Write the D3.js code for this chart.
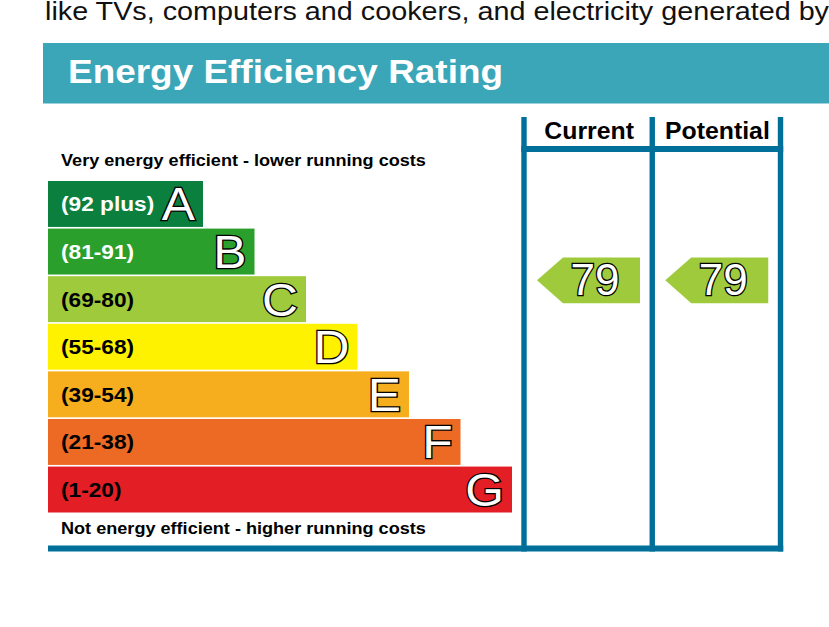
<!DOCTYPE html>
<html>
<head>
<meta charset="utf-8">
<script src="https://cdn.jsdelivr.net/npm/d3@7"></script>
<style>
  body { margin: 0; background: #fff; }
  svg { display: block; font-family: "Liberation Sans", Arial, sans-serif; }
</style>
</head>
<body>
<svg id="chart" width="829" height="627"></svg>
<script>
// Data
const ratings = ["A", "B", "C", "D", "E", "F", "G"];
const ranges = ["(92 plus)", "(81-91)", "(69-80)", "(55-68)", "(39-54)", "(21-38)", "(1-20)"];
const bandMin = [92, 81, 69, 55, 39, 21, 1];
const bandMax = [100, 91, 80, 68, 54, 38, 20];
const barColors = ["#0b7f3e", "#2b9f2b", "#9fca3c", "#fff200", "#f6ad1e", "#ec6a24", "#e31e25"];
const labelColors = ["#fff", "#fff", "#000", "#000", "#000", "#000", "#000"];
const columns = ["Current", "Potential"];
const scores = [79, 79];

const blue = "#00709a";
const sx = 1.08; // the source picture is a little stretched sideways

const svg = d3.select("#chart");

// intro text cut from the page above
svg.append("text")
  .attr("x", 45).attr("y", 19.5)
  .attr("font-size", 25)
  .attr("textLength", 784)
  .attr("lengthAdjust", "spacingAndGlyphs")
  .attr("fill", "#111")
  .text("like TVs, computers and cookers, and electricity generated by");

// title bar
svg.append("rect")
  .attr("x", 43).attr("y", 43)
  .attr("width", 829 - 43).attr("height", 60.5)
  .attr("fill", "#3ca6b9");

svg.append("text")
  .attr("x", 68).attr("y", 83)
  .attr("font-size", 34).attr("font-weight", "bold")
  .attr("textLength", 435)
  .attr("lengthAdjust", "spacingAndGlyphs")
  .attr("fill", "#fff")
  .text("Energy Efficiency Rating");

// scales
const left = 48;
const y = d3.scaleBand()
  .domain(ratings)
  .range([181, 512.5])
  .paddingInner(0.035)
  .paddingOuter(0);

const xRight = d3.scalePoint()
  .domain(ratings)
  .range([203, 512]);

const col = d3.scaleBand()
  .domain(columns)
  .range([524, 780.5]);

// value -> vertical centre of the arrow
function bandIndex(v) {
  const i = bandMin.findIndex(m => v >= m);
  return i < 0 ? ratings.length - 1 : i;
}
function scoreY(v) {
  const i = bandIndex(v);
  const t = (bandMax[i] - v) / (bandMax[i] - bandMin[i]);
  return y(ratings[i]) + t * y.bandwidth();
}

// captions
svg.append("text")
  .attr("transform", `translate(61,165.5) scale(1.09,1)`)
  .attr("font-size", 16.6).attr("font-weight", "bold")
  .text("Very energy efficient - lower running costs");

svg.append("text")
  .attr("transform", `translate(61,533.5) scale(1.09,1)`)
  .attr("font-size", 16.6).attr("font-weight", "bold")
  .text("Not energy efficient - higher running costs");

// bars
const bars = svg.selectAll("g.bar")
  .data(ratings)
  .join("g")
  .attr("class", "bar");

bars.append("rect")
  .attr("x", left)
  .attr("y", d => y(d))
  .attr("width", d => xRight(d) - left)
  .attr("height", y.bandwidth())
  .attr("fill", (d, i) => barColors[i]);

bars.append("text")
  .attr("transform", d => `translate(61,${y(d) + y.bandwidth() / 2 + 7.5}) scale(${sx},1)`)
  .attr("font-size", 21).attr("font-weight", "bold")
  .attr("fill", (d, i) => labelColors[i])
  .text((d, i) => ranges[i]);

bars.append("text")
  .attr("transform", d => `translate(${xRight(d) - 8},${y(d) + y.bandwidth() / 2 + 16.5}) scale(${sx},1)`)
  .attr("text-anchor", "end")
  .attr("font-size", 46)
  .attr("fill", "#fff")
  .attr("stroke", "#000")
  .attr("stroke-width", 2.6)
  .attr("paint-order", "stroke")
  .text(d => d);

// column frame
const frameTop = 117, frameBottom = 551.5, lineW = 5.4;

svg.append("rect")
  .attr("x", left).attr("y", frameBottom - 6)
  .attr("width", col.range()[1] + lineW / 2 - left).attr("height", 6)
  .attr("fill", blue);

svg.append("rect")
  .attr("x", col.range()[0] - lineW / 2).attr("y", 146)
  .attr("width", col.range()[1] - col.range()[0] + lineW).attr("height", 6)
  .attr("fill", blue);

const edges = columns.map(c => col(c)).concat([col.range()[1]]);
svg.selectAll("rect.vline")
  .data(edges)
  .join("rect")
  .attr("class", "vline")
  .attr("x", d => d - lineW / 2)
  .attr("y", frameTop)
  .attr("width", lineW)
  .attr("height", frameBottom - frameTop)
  .attr("fill", blue);

svg.selectAll("text.colhead")
  .data(columns)
  .join("text")
  .attr("class", "colhead")
  .attr("transform", d => `translate(${col(d) + col.bandwidth() / 2 + 1},138.5) scale(${sx},1)`)
  .attr("text-anchor", "middle")
  .attr("font-size", 23).attr("font-weight", "bold")
  .text(d => d);

// score arrows
const h = y.bandwidth();
const arrows = svg.selectAll("g.arrow")
  .data(columns.map((c, i) => ({ col: c, value: scores[i] })))
  .join("g")
  .attr("class", "arrow")
  .attr("transform", d => `translate(${col(d.col)},${scoreY(d.value)})`);

arrows.append("path")
  .attr("d", `M13,0 L39,${-h / 2} L116,${-h / 2} L116,${h / 2} L39,${h / 2} Z`)
  .attr("fill", d => barColors[bandIndex(d.value)]);

arrows.append("text")
  .attr("x", 71)
  .attr("y", 15)
  .attr("text-anchor", "middle")
  .attr("font-size", 44)
  .attr("fill", "#fff")
  .attr("stroke", "#000")
  .attr("stroke-width", 2.6)
  .attr("paint-order", "stroke")
  .text(d => d.value);
</script>
</body>
</html>
